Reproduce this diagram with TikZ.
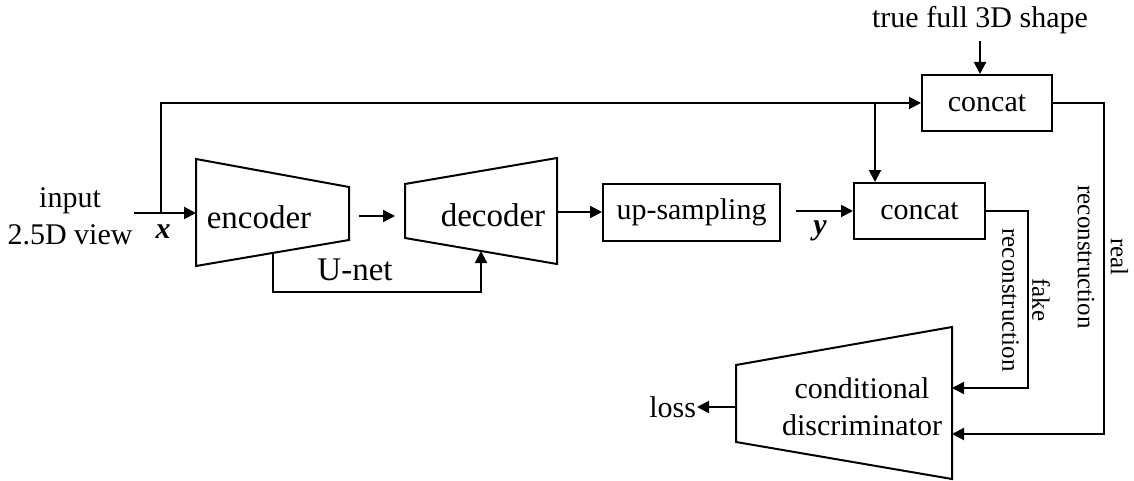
\documentclass[tikz,border=0pt]{standalone}
\usepackage{fontspec}
\setmainfont{Liberation Serif}
\usetikzlibrary{arrows.meta,calc}
\tikzset{box/.style={
    draw=black,
    rectangle, inner sep=0pt},
  lbl/.style={font=\fontsize{15}{18.5}\selectfont, align=center, inner sep=0pt},
  big/.style={font=\fontsize{16.5}{19}\selectfont, inner sep=0pt},
  side/.style={font=\fontsize{12.5}{15}\selectfont, align=center, rotate=-90, inner sep=0pt}}

\begin{document}
\begin{tikzpicture}[x=0.5pt,y=-0.5pt,line width=1pt,>={Triangle[length=6pt,width=6pt]}]
\useasboundingbox (0,0) rectangle (1134,481);
% trapezoid corners
\coordinate (E1) at (196,159);
\coordinate (E2) at (349,187);
\coordinate (E3) at (349,240);
\coordinate (E4) at (196,266);
\coordinate (D1) at (405,184);
\coordinate (D2) at (557,158);
\coordinate (D3) at (557,264);
\coordinate (D4) at (405,238);
\coordinate (C1) at (736,365);
\coordinate (C2) at (952,327);
\coordinate (C3) at (952,479);
\coordinate (C4) at (736,442);

\path[draw=black] (E1) -- (E2) -- (E3) -- (E4) -- cycle;
\path[draw=black] (D1) -- (D2) -- (D3) -- (D4) -- cycle;
\path[draw=black] (C1) -- (C2) -- (C3) -- (C4) -- cycle;

\node[big] (enc) at (259,217) {encoder};
\node[big] (dec) at (493,215) {decoder};
\node[big] (unet) at (355,270) {U-net};
\node[lbl] (disc) at (862,407) {conditional\\discriminator};

\node[box, lbl, minimum width=88.5pt, minimum height=28.5pt] (up) at (691.5,212.5) {up-sampling};
\node[box, lbl, minimum width=65.5pt, minimum height=28pt] (cbot) at (919.5,211) {concat};
\node[box, lbl, minimum width=65pt, minimum height=28pt] (ctop) at (987,103) {concat};

\node[lbl] (input) at (70,216) {input\\2.5D view};
\node[lbl] (xlab) at (163,232) {\textbf{\textit{x}}};
\node[lbl] (ylab) at (820,231) {\textbf{\textit{y}}};
\node[lbl] (truth) at (980,20) {true full 3D shape};
\node[lbl, anchor=east] (loss) at (697,407) {loss};
\node[side] (fake) at (1026,300) {fake\\reconstruction};
\node[side, font=\fontsize{12.5}{16.5}\selectfont] (real) at (1103,257) {real\\reconstruction};

% connectors
\coordinate (xin) at (134,213);
\coordinate (xsplit) at (161,213);
\coordinate (ysplit) at (875,103);
\draw[->] (xin) -- (xin -| E1);
\draw[->] (xsplit) -- (161,103) -- (ctop.west);
\draw[->] (ysplit) -- (ysplit |- cbot.north);
\draw[->] (truth.south |- 0,41) -- (truth.south |- ctop.north);
\draw[->] (359,216) -- (395,216);
\draw[->] (557,212) -- (up.west |- 0,212);
\draw[->] (796,211) -- (cbot.west);
\draw[->] (273,253) -- (273,292) -- (481,292) -- (481,251);
\draw[->] (cbot.east) -- (1028,211) -- (1028,388) -- (952,388);
\draw[->] (ctop.east) -- (1104,103) -- (1104,434) -- (952,434);
\draw[->] (736,407) -- (loss.east);
\end{tikzpicture}
\end{document}
